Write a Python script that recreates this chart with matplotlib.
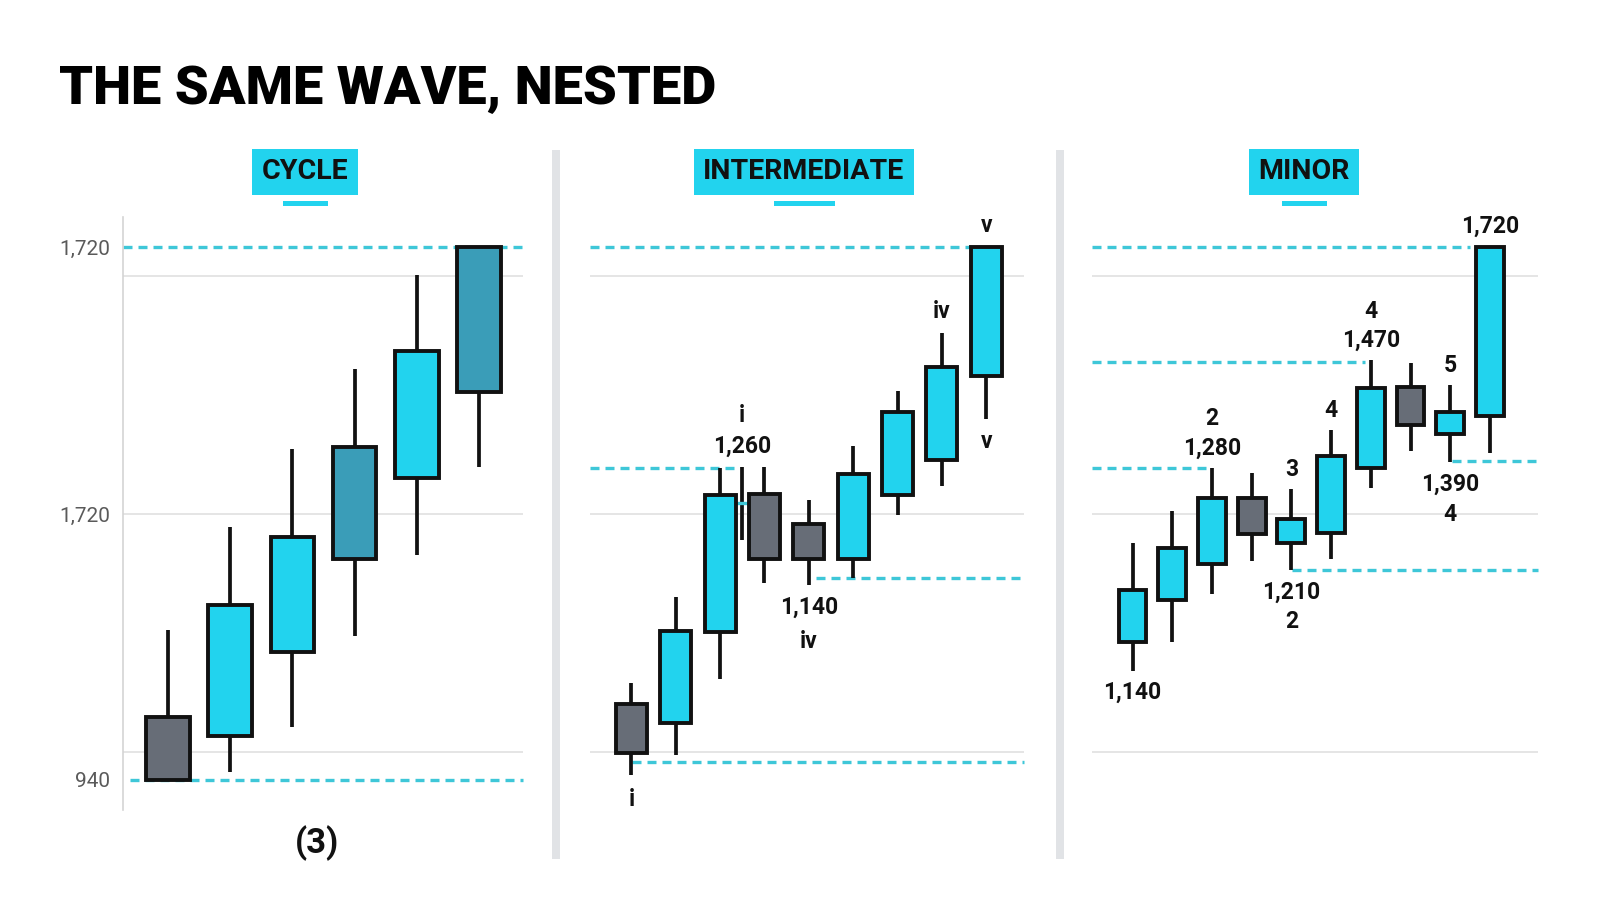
import matplotlib
matplotlib.use("Agg")
import matplotlib.pyplot as plt
from matplotlib.patches import Rectangle

plt.rcParams['font.family'] = ['Roboto', 'DejaVu Sans']
LABEL_FONT = ['Roboto', 'DejaVu Sans']

# ---- data -------------------------------------------------------------
# CYCLE degree
cyc_open  = [1032, 1005, 1128, 1264, 1382, 1508]
cyc_close = [940, 1196, 1296, 1428, 1568, 1720]
cyc_high  = [1160, 1310, 1424, 1541, 1679, 1720]
cyc_low   = [940, 952, 1018, 1151, 1269, 1398]
cyc_kind  = ['down', 'up', 'up', 'deep', 'up', 'deep']

# INTERMEDIATE degree
int_open  = [1051, 1023, 1157, 1358, 1314, 1263, 1357, 1408, 1531]
int_close = [980, 1158, 1357, 1263, 1263, 1388, 1478, 1545, 1720]
int_high  = [1082, 1208, 1396, 1398, 1350, 1429, 1509, 1594, 1720]
int_low   = [947, 977, 1088, 1228, 1225, 1235, 1328, 1370, 1469]
int_kind  = ['down', 'up', 'up', 'down', 'down', 'up', 'up', 'up', 'up']
int_spike = (1291, 1398)   # lone wick between candle 3 and 4

# MINOR degree
min_open  = [1142, 1203, 1256, 1352, 1287, 1302, 1396, 1515, 1447, 1472]
min_close = [1218, 1279, 1352, 1300, 1322, 1414, 1513, 1460, 1479, 1720]
min_high  = [1287, 1333, 1396, 1390, 1366, 1452, 1554, 1550, 1518, 1720]
min_low   = [1100, 1142, 1212, 1260, 1247, 1263, 1368, 1422, 1406, 1418]
min_kind  = ['up', 'up', 'up', 'down', 'up', 'up', 'up', 'down', 'up', 'up']

# dashed reference levels: (price, x_from, x_to); None = panel edge
cyc_levels = [(1720, None, None), (940, -0.61, None)]
int_levels = [(1720, None, 7.65), (1397, None, 2.44), (1236, 4.17, None), (966, 0.02, None)]
min_levels = [(1720, None, 8.5), (1552, None, 5.86), (1397, None, 1.87),
              (1407, 8.04, None), (1248, 4.01, None)]

# wave labels: (x, price, text)
int_labels = [(8, 1752, 'v'), (8, 1435, 'v'), (7, 1625, 'iv'), (2.5, 1473, 'i'),
              (2.5, 1428, '1,260'), (4, 1192, '1,140'), (4, 1142, 'iv'), (0, 911, 'i')]
min_labels = [(9, 1750, '1,720'), (6, 1625, '4'), (6, 1583, '1,470'), (8, 1547, '5'),
              (5, 1481, '4'), (2, 1469, '2'), (2, 1426, '1,280'), (4, 1395, '3'),
              (8, 1373, '1,390'), (8, 1328, '4'), (4, 1214, '1,210'), (4, 1172, '2'),
              (0, 1068, '1,140')]

y_ticks = [940, 1329, 1720]
y_ticklabels = ['940', '1,720', '1,720']
grid_levels = [981, 1329, 1678]

panel_titles = ['CYCLE', 'INTERMEDIATE', 'MINOR']

# ---- style ------------------------------------------------------------
CYAN = '#22d3ee'
colors = {'up': CYAN, 'deep': '#3a9db8', 'down': '#676d77'}
DASH_C = '#3ec7d8'
INK = '#111111'
YLIM = (896, 1764)


def draw_candles(ax, o, c, h, l, kinds, width=0.7):
    for i in range(len(o)):
        top, bot = max(o[i], c[i]), min(o[i], c[i])
        ax.plot([i, i], [l[i], h[i]], color=INK, lw=2.7, zorder=3, solid_capstyle='butt')
        ax.add_patch(Rectangle((i - width / 2, bot), width, top - bot, facecolor=colors[kinds[i]],
                               edgecolor=INK, lw=2.8, zorder=4, joinstyle='miter'))


def draw_levels(ax, levels):
    x0, x1 = ax.get_xlim()
    for y, a, b in levels:
        ax.plot([x0 if a is None else a, x1 if b is None else b], [y, y], color=DASH_C,
                lw=2.4, dashes=(2.7, 1.8), zorder=2, clip_on=False)


def draw_labels(ax, labels):
    for x, y, t in labels:
        ax.text(x, y, t, ha='center', va='center', fontsize=16.5, fontweight='bold',
                family=LABEL_FONT, color=INK, zorder=6, clip_on=False)


fig = plt.figure(figsize=(16, 9.14), dpi=100)
fig.patch.set_facecolor('white')

bottom, height = 1 - 810 / 914, 593 / 914
ax1 = fig.add_axes([123 / 1600, bottom, 400 / 1600, height])
ax2 = fig.add_axes([590 / 1600, bottom, 434 / 1600, height])
ax3 = fig.add_axes([1092 / 1600, bottom, 446 / 1600, height])

ax1.set_xlim(-0.723, 5.707)
ax2.set_xlim(-0.932, 8.849)
ax3.set_xlim(-1.02, 10.21)

for ax in (ax1, ax2, ax3):
    ax.set_ylim(*YLIM)
    ax.set_xticks([])
    for s in ax.spines.values():
        s.set_visible(False)
    for g in grid_levels:
        ax.axhline(g, color='#e0e0e0', lw=1.2, zorder=1)
    ax.tick_params(length=0)

ax1.spines['left'].set_visible(True)
ax1.spines['left'].set_color('#d4d4d4')
ax1.spines['left'].set_linewidth(1.2)
ax1.set_yticks(y_ticks)
ax1.set_yticklabels(y_ticklabels, fontsize=15, color='#5a5a5a', fontweight='normal')
ax1.tick_params(axis='y', pad=9)
ax2.set_yticks([])
ax3.set_yticks([])

draw_candles(ax1, cyc_open, cyc_close, cyc_high, cyc_low, cyc_kind)
draw_candles(ax2, int_open, int_close, int_high, int_low, int_kind)
draw_candles(ax3, min_open, min_close, min_high, min_low, min_kind)

draw_levels(ax1, cyc_levels)
draw_levels(ax2, int_levels)
draw_levels(ax3, min_levels)

# lone wick + short cyan tick in the intermediate panel
ax2.plot([2.5, 2.5], int_spike, color=INK, lw=2.7, zorder=3, solid_capstyle='butt')
ax2.plot([2.33, 2.73], [1345, 1345], color=DASH_C, lw=2.4, zorder=3)

draw_labels(ax2, int_labels)
draw_labels(ax3, min_labels)
ax1.text(2.39, 848, '(3)', ha='center', va='center', fontsize=25, fontweight='bold',
         family=LABEL_FONT, color=INK, clip_on=False)

# separators between panels
for sx in (552, 1056):
    fig.add_artist(Rectangle((sx / 1600, 1 - 859 / 914), 8 / 1600, 709 / 914,
                             transform=fig.transFigure, facecolor='#e1e3e6', edgecolor='none'))

# panel headers
for cx, bw, name in zip((305, 804, 1304), (45, 61, 45), panel_titles):
    fig.text(cx / 1600, 1 - 171.7 / 914, name, ha='center', va='center', fontsize=20.5,
             fontweight='bold', color=INK,
             bbox=dict(boxstyle='square,pad=0.34', facecolor=CYAN, edgecolor='none'))
    fig.add_artist(Rectangle(((cx - bw / 2) / 1600, 1 - 206 / 914), bw / 1600, 4.5 / 914,
                             transform=fig.transFigure, facecolor=CYAN, edgecolor='none'))

fig.text(59 / 1600, 1 - 104 / 914, 'THE SAME WAVE, NESTED', ha='left', va='baseline',
         fontsize=39, fontweight='heavy', color='#000000')

fig.savefig('out.png', dpi=100, facecolor='white')
